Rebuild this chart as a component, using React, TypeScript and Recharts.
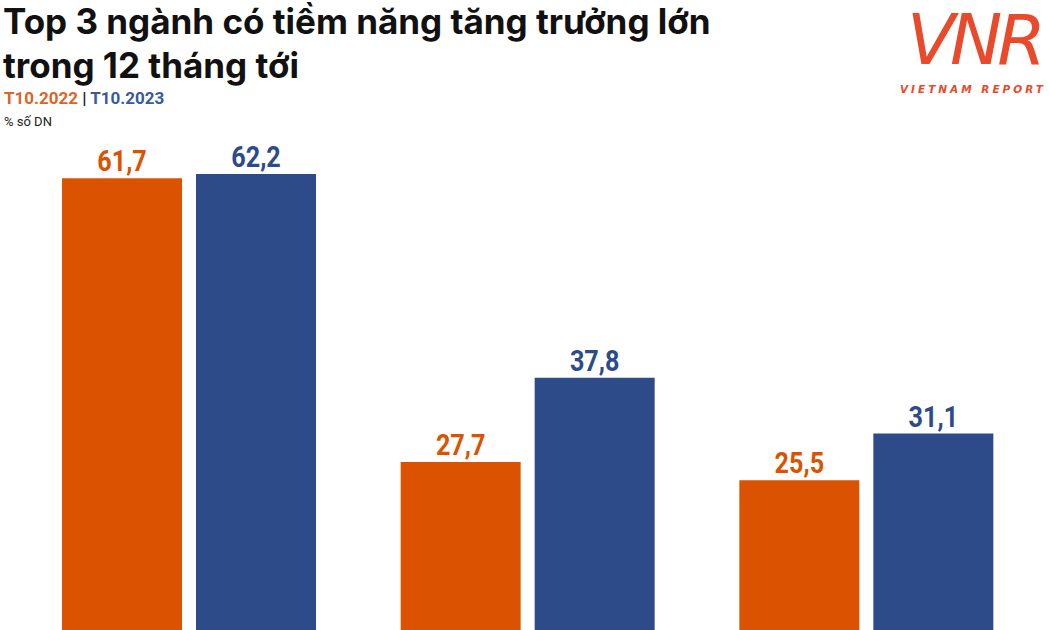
import React from 'react';
import { BarChart, Bar, XAxis, YAxis, LabelList } from 'recharts';

const categories = ['Ngành 1', 'Ngành 2', 'Ngành 3'];
const t2022 = [61.7, 27.7, 25.5];
const t2023 = [62.2, 37.8, 31.1];
const seriesNames = ['T10.2022', 'T10.2023'];

const ORANGE = '#DB5300';
const BLUE = '#2C4B88';

const data = categories.map((name, i) => ({ name, a: t2022[i], b: t2023[i] }));

const fmt = (v: any) => Number(v).toFixed(1).replace('.', ',');

// narrow bold value label drawn above each bar
const makeLabel = (color: string) => (props: any) => {
  const { x, y, width, value } = props;
  const cx = Number(x) + Number(width) / 2;
  return (
    <text
      transform={`translate(${cx},${Number(y) - 7}) scale(0.84,1)`}
      textAnchor="middle"
      fontFamily="Roboto, sans-serif"
      fontWeight={700}
      fontSize={30}
      fill={color}
    >
      {fmt(value)}
    </text>
  );
};

export default function App() {
  return (
    <div
      style={{
        position: 'absolute',
        left: 0,
        top: 0,
        width: 1050,
        height: 630,
        overflow: 'hidden',
        background: '#ffffff',
      }}
    >
      <BarChart
        width={1050}
        height={700}
        data={data}
        margin={{ top: 109, right: 14, left: 20, bottom: 7 }}
        barSize={120}
        barGap={14}
        style={{ position: 'absolute', left: 0, top: 0 }}
      >
        <XAxis dataKey="name" hide />
        <YAxis hide domain={[0, 70]} />
        <Bar dataKey="a" name={seriesNames[0]} fill={ORANGE} isAnimationActive={false}>
          <LabelList dataKey="a" content={makeLabel(ORANGE)} />
        </Bar>
        <Bar dataKey="b" name={seriesNames[1]} fill={BLUE} isAnimationActive={false}>
          <LabelList dataKey="b" content={makeLabel(BLUE)} />
        </Bar>
      </BarChart>

      {/* header */}
      <div
        style={{
          position: 'absolute',
          left: 3,
          top: -1,
          fontFamily: 'Inter, sans-serif',
          fontWeight: 700,
          fontSize: 35,
          lineHeight: '44px',
          color: '#111111',
        }}
      >
        <div>Top 3 ngành có tiềm năng tăng trưởng lớn</div>
        <div>trong 12 tháng tới</div>
      </div>
      <div
        style={{
          position: 'absolute',
          left: 4,
          top: 88,
          fontFamily: 'Roboto, sans-serif',
          fontWeight: 700,
          fontSize: 17,
        }}
      >
        <span style={{ color: '#D9652A' }}>{seriesNames[0]}</span>
        <span style={{ color: '#222' }}> | </span>
        <span style={{ color: '#3A5A9A' }}>{seriesNames[1]}</span>
      </div>
      <div
        style={{
          position: 'absolute',
          left: 4,
          top: 114,
          fontFamily: 'Roboto, sans-serif',
          fontSize: 13,
          color: '#222',
        }}
      >
        % số DN
      </div>

      {/* logo */}
      <svg width={170} height={100} style={{ position: 'absolute', left: 885, top: 0 }}>
        <text
          x={89}
          y={64}
          textAnchor="middle"
          fontFamily="'DejaVu Sans', sans-serif"
          fontStyle="italic"
          fontWeight={400}
          fontSize={70}
          letterSpacing={-5}
          fill="#E84A2B"
        >
          VNR
        </text>
        <text
          x={88}
          y={93}
          textAnchor="middle"
          fontFamily="'DejaVu Sans', sans-serif"
          fontStyle="italic"
          fontWeight={700}
          fontSize={10.5}
          letterSpacing={3}
          fill="#E84A2B"
        >
          VIETNAM REPORT
        </text>
      </svg>
    </div>
  );
}
